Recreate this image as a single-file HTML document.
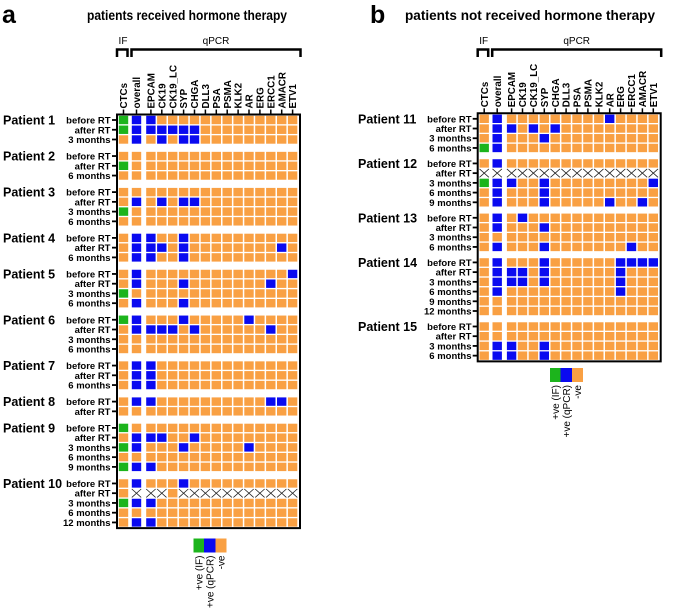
<!DOCTYPE html>
<html><head><meta charset="utf-8"><style>
html,body{margin:0;padding:0;background:#fff;}
svg{display:block;font-family:"Liberation Sans",Arial,sans-serif;}
</style></head><body>
<svg id="fig" width="685" height="612" viewBox="0 0 685 612" xmlns="http://www.w3.org/2000/svg">
<text x="2" y="23" font-size="25" font-weight="bold">a</text>
<text x="87" y="20" font-size="14" font-weight="bold" textLength="200" lengthAdjust="spacingAndGlyphs">patients received hormone therapy</text>
<text x="370" y="23" font-size="25" font-weight="bold">b</text>
<text x="405" y="20" font-size="14" font-weight="bold" textLength="250" lengthAdjust="spacingAndGlyphs">patients not received hormone therapy</text>
<g id="plots"></g>
</svg>
<script>
const markers = ["CTCs","overall","EPCAM","CK19","CK19_LC","SYP","CHGA","DLL3","PSA","PSMA","KLK2","AR","ERG","ERCC1","AMACR","ETV1"];
const patientsA = ["Patient 1","Patient 2","Patient 3","Patient 4","Patient 5","Patient 6","Patient 7","Patient 8","Patient 9","Patient 10"];
const timepointsA = [
 ["before RT","after RT","3 months"],
 ["before RT","after RT","6 months"],
 ["before RT","after RT","3 months","6 months"],
 ["before RT","after RT","6 months"],
 ["before RT","after RT","3 months","6 months"],
 ["before RT","after RT","3 months","6 months"],
 ["before RT","after RT","6 months"],
 ["before RT","after RT"],
 ["before RT","after RT","3 months","6 months","9 months"],
 ["before RT","after RT","3 months","6 months","12 months"]];
// G = +ve (IF), B = +ve (qPCR), o = -ve, x = not available
const statusA = [
 ["GBBooooooooooooo","GBBBBBBooooooooo","oBoBoBBooooooooo"],
 ["oooooooooooooooo","Goooooooooooooooo","oooooooooooooooo"],
 ["oooooooooooooooo","oBoBoBBooooooooo","Goooooooooooooooo","oooooooooooooooo"],
 ["oBBooBoooooooooo","oBBBoBooooooooBo","oBBooBoooooooooo"],
 ["oBoooooooooooooB","oBoooBoooooooBoo","Goooooooooooooooo","oBoooBoooooooooo"],
 ["GBoooBoooooBoooo","oBBBBoBooooooBoo","oooooooooooooooo","oooooooooooooooo"],
 ["oBBooooooooooooo","oBBooooooooooooo","oBBooooooooooooo"],
 ["oBBooooooooooBBo","oooooooooooooooo"],
 ["Goooooooooooooooo","oBBBooBooooooooo","GBoooBoooooBoooo","oooooooooooooooo","GBBooooooooooooo"],
 ["oBoooBoooooooooo","oxxxoxxxxxxxxxxx","GBBooooooooooooo","oooooooooooooooo","oBBooooooooooooo"]];
const patientsB = ["Patient 11","Patient 12","Patient 13","Patient 14","Patient 15"];
const timepointsB = [
 ["before RT","after RT","3 months","6 months"],
 ["before RT","after RT","3 months","6 months","9 months"],
 ["before RT","after RT","3 months","6 months"],
 ["before RT","after RT","3 months","6 months","9 months","12 months"],
 ["before RT","after RT","3 months","6 months"]];
const statusB = [
 ["oBoooooooooBoooo","oBBoBoBooooooooo","oBoooBoooooooooo","GBoooooooooooooo"],
 ["oBoooooooooooooo","xxxxxxxxxxxxxxxx","GBBooBoooooooooB","oBoooBoooooooooo","oBoooBoooooBooBo"],
 ["oBoBoooooooooooo","oBoooBoooooooooo","oooooooooooooooo","oBoooBoooooooBoo"],
 ["oBoooBooooooBBBB","oBBBoBooooooBooo","oBBBoBooooooBooo","oBooooooooooBooo","oooooooooooooooo","oooooooooooooooo"],
 ["oooooooooooooooo","oooooooooooooooo","oBBooBoooooooooo","oBBooBoooooooooo"]];
const legendLabels = ["+ve (IF)","+ve (qPCR)","-ve"];

const COLORS = {G:"#1cb41c", B:"#0a0af0", o:"#f9a043", x:"#ffffff"};
const NS = "http://www.w3.org/2000/svg";
const root = document.getElementById("plots");
function mk(tag, attrs, parent){
  const e = document.createElementNS(NS, tag);
  for (const k in attrs) e.setAttribute(k, attrs[k]);
  (parent||root).appendChild(e);
  return e;
}

function drawPanel(id, dx, top0, rowPitch, groupGap, frameTop, patients, tps, status, labelEndX, patX, legY){
  const g = mk("g", {});
  
  
  const cw = 9.4, ch = 8.4, pitch = 10.9;
  const colX = c => c === 0 ? 118.8 + dx : (c === 1 ? 131.8 + dx : 146.2 + dx + (c - 2) * pitch);
  const left = 117 + dx, right = 300 + dx;
  const ifT = mk("text", {x: 123 + dx, y: 44, "font-size": 10, "text-anchor": "middle"}, g);
  ifT.textContent = "IF";
  
  
  const qT = mk("text", {x: 216 + dx, y: 44, "font-size": 10, "text-anchor": "middle"}, g);
  qT.textContent = "qPCR";
  
  
  const b1 = mk("path", {d: `M${117+dx},57 V49.5 H${127.5+dx} V57`, fill: "none", stroke: "#000", "stroke-width": 2.5}, g);
  
  
  const b2 = mk("path", {d: `M${131.5+dx},57 V49.5 H${300.5+dx} V57`, fill: "none", stroke: "#000", "stroke-width": 2.5}, g);
  
  
  markers.forEach((m, c) => {
    const cx = colX(c) + cw / 2;
    const t = mk("text", {x: 0, y: 0, "font-size": 9.8, "font-weight": "bold", transform: `translate(${cx + 3.6},${frameTop - 6}) rotate(-90)`}, g);
    t.textContent = m;
    
    
    const tk = mk("line", {x1: cx, x2: cx, y1: frameTop - 5, y2: frameTop, stroke: "#000", "stroke-width": 1.5}, g);
    
    
  });
  let ri = 0, y = top0, lastBottom = 0;
  patients.forEach((p, pi) => {
    const pt = mk("text", {x: patX, y: y + ch / 2 + 4.5, "font-size": 12.5, "font-weight": "bold"}, g);
    pt.textContent = p;
    
    
    tps[pi].forEach((tp, ti) => {
      const ry = top0 + ri * rowPitch + pi * groupGap;
      const lt = mk("text", {x: labelEndX, y: ry + ch / 2 + 3.5, "font-size": 9.5, "font-weight": "bold", "text-anchor": "end"}, g);
      lt.textContent = tp;
      
      
      const rt = mk("line", {x1: left - 5, x2: left, y1: ry + ch / 2, y2: ry + ch / 2, stroke: "#000", "stroke-width": 1.8}, g);
      
      
      const s = status[pi][ti];
      for (let c = 0; c < markers.length; c++) {
        const v = s[c] || "o";
        const x = colX(c);
        const r = mk("rect", {x: x, y: ry, width: cw, height: ch, fill: COLORS[v]}, g);
        
        
        if (v === "x") {
          const xx = mk("path", {d: `M${x},${ry} L${x+cw},${ry+ch} M${x+cw},${ry} L${x},${ry+ch}`, stroke: "#222", "stroke-width": 0.8, fill: "none"}, g);
          
          
        }
      }
      lastBottom = ry + ch;
      ri++;
    });
    y = top0 + ri * rowPitch + (pi + 1) * groupGap;
  });
  const frame = mk("path", {d: `M${left},${frameTop} H${right} V${lastBottom + 1.5} H${left} Z`, fill: "none", stroke: "#000", "stroke-width": 2}, g);
  
  
  const lx = [legY[0], legY[0] + 10.5, legY[0] + 22];
  const lw = [10.5, 11.5, 11];
  ["G","B","o"].forEach((k, i) => {
    const r = mk("rect", {x: lx[i], y: legY[1], width: lw[i], height: 14, fill: COLORS[k]}, g);
    
    
    const t = mk("text", {x: 0, y: 0, "font-size": 10, "text-anchor": "end", transform: `translate(${lx[i] + lw[i] / 2 + 3.5},${legY[1] + 17}) rotate(-90)`}, g);
    t.textContent = legendLabels[i];
    
    
  });
}
drawPanel("panel-a", 0, 115.8, 9.75, 6.8, 114.5, patientsA, timepointsA, statusA, 110.5, 3, [193.5, 538.5]);
drawPanel("panel-b", 360.7, 114.6, 9.72, 5.75, 113.3, patientsB, timepointsB, statusB, 471.5, 358, [550, 368]);
</script>
</body></html>
